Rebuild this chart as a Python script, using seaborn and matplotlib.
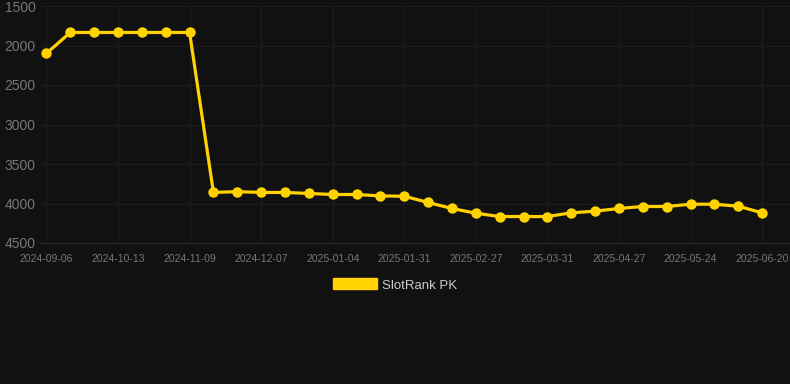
import matplotlib
matplotlib.use("Agg")
import matplotlib.pyplot as plt
from matplotlib.patches import Patch
import seaborn as sns
import pandas as pd

dates = ["2024-09-06", "2024-09-18", "2024-10-01", "2024-10-13", "2024-10-22", "2024-10-31",
         "2024-11-09", "2024-11-18", "2024-11-27", "2024-12-07", "2024-12-16", "2024-12-25",
         "2025-01-04", "2025-01-13", "2025-01-22", "2025-01-31", "2025-02-09", "2025-02-18",
         "2025-02-27", "2025-03-10", "2025-03-21", "2025-03-31", "2025-04-09", "2025-04-18",
         "2025-04-27", "2025-05-06", "2025-05-15", "2025-05-24", "2025-06-02", "2025-06-11",
         "2025-06-20"]
rank = [2100, 1835, 1835, 1835, 1835, 1835, 1835,
        3860, 3850, 3860, 3860, 3873, 3886, 3886, 3904, 3908,
        3987, 4063, 4123, 4165, 4165, 4165, 4118, 4097, 4063,
        4038, 4038, 4009, 4009, 4034, 4118]
series_name = "SlotRank PK"
y_ticks = [1500, 2000, 2500, 3000, 3500, 4000, 4500]

BG = "#111111"
GOLD = "#FFD200"
GRID = "#1d1d1d"
TICK = "#777777"

sns.set_theme(style="dark")
plt.rcParams["font.family"] = ["Liberation Sans", "DejaVu Sans"]

df = pd.DataFrame({"date": dates, "rank": rank})

fig = plt.figure(figsize=(7.9, 3.84), dpi=100, facecolor=BG)
ax = fig.add_axes([40 / 790, 1 - 243 / 384, 750 / 790, 237 / 384])
ax.set_facecolor(BG)

sns.lineplot(data=df, x="date", y="rank", ax=ax, color=GOLD, linewidth=2.3,
             marker="o", markersize=7.5, markeredgewidth=0, sort=False)

ax.set_ylim(4500, 1500)
ax.set_yticks(y_ticks)
ax.set_xlim(-0.27, len(dates) - 1 + 1.17)
tick_idx = list(range(0, len(dates), 3))
ax.set_xticks(tick_idx)
ax.set_xticklabels([dates[i] for i in tick_idx])

ax.grid(True, color=GRID, linewidth=0.8)
ax.set_axisbelow(True)
for s in ax.spines.values():
    s.set_visible(False)
ax.spines["bottom"].set_visible(True)
ax.spines["bottom"].set_color("#292929")
ax.spines["bottom"].set_linewidth(0.8)
ax.tick_params(axis="x", colors=TICK, labelsize=7.5, length=5, color=GRID, pad=3)
ax.tick_params(axis="y", colors=TICK, labelsize=10, length=0, pad=3)
ax.set_xlabel("")
ax.set_ylabel("")

handles = [Patch(facecolor=GOLD, edgecolor=GOLD, label=series_name)]
fig.legend(handles=handles, loc="center", bbox_to_anchor=(0.5, 1 - 285 / 384),
           frameon=False, fontsize=9.5, labelcolor="#cccccc", handlelength=3.3,
           handleheight=0.9, handletextpad=0.4)

fig.savefig("out.png", dpi=100, facecolor=BG)
